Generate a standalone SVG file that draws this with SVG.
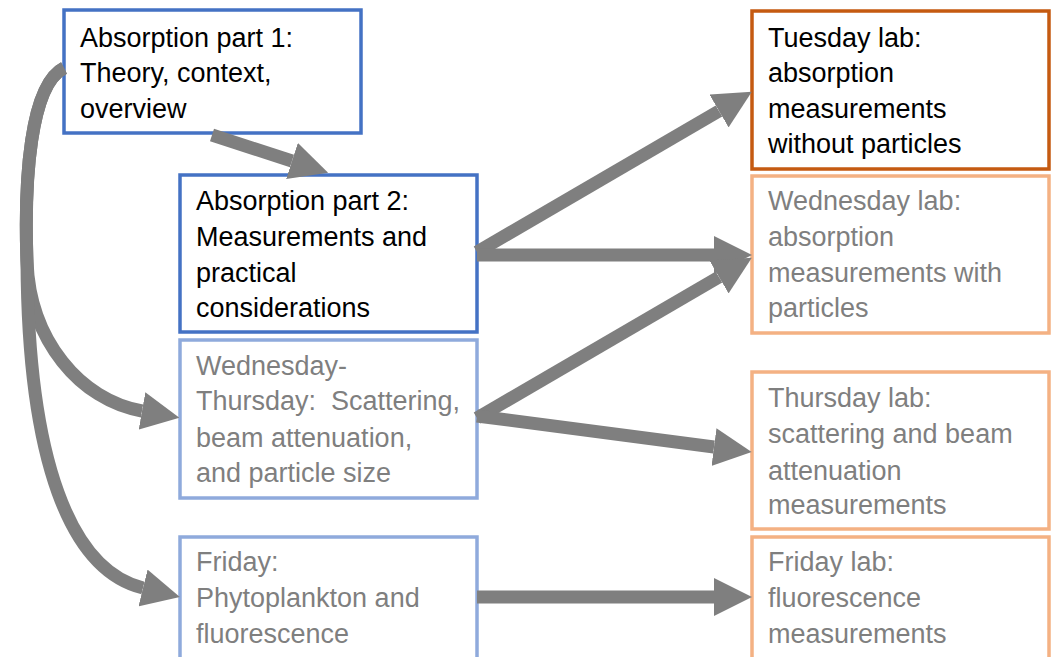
<svg xmlns="http://www.w3.org/2000/svg" width="1054" height="657" viewBox="0 0 1054 657">
<style>
  .box { fill: #FFFFFF; stroke-width: 3.5; }
  .blue { stroke: #4472C4; }
  .lblue { stroke: #8FAADC; }
  .orange { stroke: #C55A11; }
  .lorange { stroke: #F4B183; }
  text { font-family: "Liberation Sans", Arial, sans-serif; font-size: 27px; white-space: pre; }
  .dark { fill: #000000; }
  .grey { fill: #7F7F7F; }
  .conn { fill: none; stroke: #7F7F7F; stroke-width: 13; stroke-linecap: butt; marker-end: url(#head); }
</style>
<defs>
  <marker id="head" markerUnits="userSpaceOnUse" markerWidth="38" markerHeight="38" viewBox="0 0 38 38" refX="0" refY="19" orient="auto">
    <path d="M0,0 L38,19 L0,38 Z" fill="#7F7F7F"/>
  </marker>
</defs>
<rect width="1054" height="657" fill="#FFFFFF"/>

<g id="abs1">
  <rect class="box blue" x="64" y="10" width="297" height="123"/>
  <text class="dark" x="80" y="47">Absorption part 1:</text>
  <text class="dark" x="80" y="82">Theory, context,</text>
  <text class="dark" x="80" y="118">overview</text>
</g>
<g id="abs2">
  <rect class="box blue" x="180" y="175" width="297" height="157"/>
  <text class="dark" x="196" y="210">Absorption part 2:</text>
  <text class="dark" x="196" y="246">Measurements and</text>
  <text class="dark" x="196" y="282">practical</text>
  <text class="dark" x="196" y="317">considerations</text>
</g>
<g id="wedthu">
  <rect class="box lblue" x="180" y="340" width="297" height="158"/>
  <text class="grey" x="196" y="375">Wednesday-</text>
  <text class="grey" x="196" y="410">Thursday:  Scattering,</text>
  <text class="grey" x="196" y="447">beam attenuation,</text>
  <text class="grey" x="196" y="482">and particle size</text>
</g>
<g id="friday">
  <rect class="box lblue" x="180" y="537" width="297" height="130"/>
  <text class="grey" x="196" y="571">Friday:</text>
  <text class="grey" x="196" y="607">Phytoplankton and</text>
  <text class="grey" x="196" y="643">fluorescence</text>
</g>
<g id="tuelab">
  <rect class="box orange" x="752" y="11" width="297" height="158"/>
  <text class="dark" x="768" y="47">Tuesday lab:</text>
  <text class="dark" x="768" y="82">absorption</text>
  <text class="dark" x="768" y="118">measurements</text>
  <text class="dark" x="768" y="153">without particles</text>
</g>
<g id="wedlab">
  <rect class="box lorange" x="752" y="176" width="297" height="157"/>
  <text class="grey" x="768" y="210">Wednesday lab:</text>
  <text class="grey" x="768" y="246">absorption</text>
  <text class="grey" x="768" y="282">measurements with</text>
  <text class="grey" x="768" y="317">particles</text>
</g>
<g id="thulab">
  <rect class="box lorange" x="752" y="372" width="297" height="157"/>
  <text class="grey" x="768" y="407">Thursday lab:</text>
  <text class="grey" x="768" y="443">scattering and beam</text>
  <text class="grey" x="768" y="480">attenuation</text>
  <text class="grey" x="768" y="514">measurements</text>
</g>
<g id="frilab">
  <rect class="box lorange" x="752" y="537" width="297" height="130"/>
  <text class="grey" x="768" y="571">Friday lab:</text>
  <text class="grey" x="768" y="607">fluorescence</text>
  <text class="grey" x="768" y="643">measurements</text>
</g>

<g id="connectors">
  <path class="conn" d="M212,135 L292,161"/>
  <path class="conn" d="M64,68 C30,85 24,180 27,262 C30,340 80,400 142,411"/>
  <path class="conn" d="M64,68 C30,85 24,180 27,262 C28,460 70,570 143,588"/>
  <path class="conn" d="M477,252 L719,111"/>
  <path class="conn" d="M477,255 L714,255"/>
  <path class="conn" d="M477,418 L719,277"/>
  <path class="conn" d="M477,416 L714,447"/>
  <path class="conn" d="M477,597 L714,597"/>
</g>
</svg>
